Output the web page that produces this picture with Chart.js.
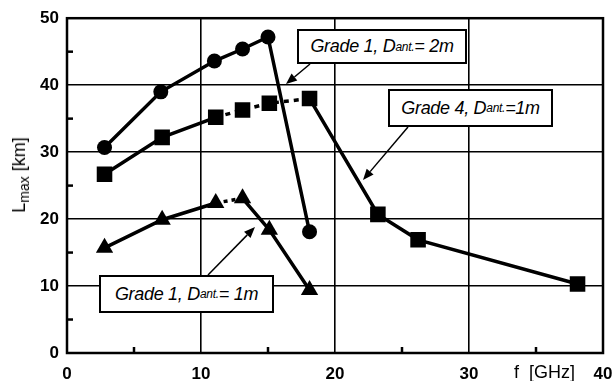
<!DOCTYPE html>
<html><head><meta charset="utf-8">
<script src="https://cdn.jsdelivr.net/npm/chart.js@4"></script>
<style>
html,body{margin:0;padding:0;background:#fff;}
#wrap{position:relative;width:615px;height:381px;overflow:hidden;}
canvas{position:absolute;left:0;top:0;}
.box{position:absolute;background:#fff;border:2px solid #000;font:italic 18px "Liberation Sans",Arial,sans-serif;color:#000;white-space:nowrap;box-sizing:border-box;display:flex;align-items:center;justify-content:center;letter-spacing:-0.3px;}
.box sub{font-size:12px;vertical-align:-4px;line-height:1;}
.lbl{position:absolute;font:18px "Liberation Sans",Arial,sans-serif;color:#000;white-space:nowrap;}
.lbl sub{font-size:14px;vertical-align:-4px;line-height:1;}
</style></head>
<body><div id="wrap"><canvas id="c" width="615" height="381"></canvas>
<div class="box" style="left:297px;top:29px;width:170px;height:35px;">Grade 1, D<sub>ant.</sub>= 2m</div>
<div class="box" style="left:388px;top:89px;width:165px;height:38px;">Grade 4, D<sub>ant.</sub>=1m</div>
<div class="box" style="left:99px;top:275px;width:175px;height:38px;">Grade 1, D<sub>ant.</sub>= 1m</div>
<div class="lbl" style="left:20px;top:175px;transform:translate(-50%,-50%) rotate(-90deg);">L<sub>max</sub> [km]</div>
<div class="lbl" style="left:514px;top:362px;">f&nbsp; [GHz]</div>
</div>
<script>
// Data
const freqGrade1_2m = [2.8, 7.0, 11.0, 13.1, 15.0, 18.1];
const lmaxGrade1_2m = [30.7, 39.0, 43.6, 45.4, 47.2, 18.1];
const freqGrade4_1m = [2.8, 7.1, 11.1, 13.1, 15.1, 18.1, 23.2, 26.2, 38.1];
const lmaxGrade4_1m = [26.7, 32.2, 35.2, 36.3, 37.3, 38.0, 20.7, 16.9, 10.3];
const freqGrade1_1m = [2.8, 7.1, 11.1, 13.1, 15.1, 18.1];
const lmaxGrade1_1m = [15.7, 19.9, 22.4, 23.1, 18.4, 9.4];
const xTicks = [0, 10, 20, 30, 40];
const yTicks = [0, 10, 20, 30, 40, 50];
const xMinor = [5, 15, 25, 35];
const yMinor = [5, 15, 25, 35, 45];

const pts = (xs, ys) => xs.map((x, i) => ({x: x, y: ys[i]}));

// arrows (pixel layout of the annotation callouts)
const arrows = [
  [310, 64, 286, 84],
  [408, 127, 363, 180],
  [208, 275, 255, 227]
];

const framePlugin = {
  id: 'frame',
  afterDraw(chart) {
    const ctx = chart.ctx, a = chart.chartArea;
    const xs = chart.scales.x, ys = chart.scales.y;
    ctx.save();
    ctx.strokeStyle = '#000';
    ctx.lineWidth = 2.5;
    ctx.strokeRect(a.left, a.top, a.right - a.left, a.bottom - a.top);
    xMinor.forEach(v => {
      const p = xs.getPixelForValue(v);
      ctx.beginPath(); ctx.moveTo(p, a.bottom); ctx.lineTo(p, a.bottom - 6); ctx.stroke();
    });
    yMinor.forEach(v => {
      const p = ys.getPixelForValue(v);
      ctx.beginPath(); ctx.moveTo(a.left, p); ctx.lineTo(a.left + 6, p); ctx.stroke();
    });
    ctx.lineWidth = 1.5;
    ctx.fillStyle = '#000';
    arrows.forEach(([x1, y1, x2, y2]) => {
      const ang = Math.atan2(y2 - y1, x2 - x1);
      const L = 11, W = 4.5;
      const bx = x2 - L * Math.cos(ang), by = y2 - L * Math.sin(ang);
      ctx.beginPath(); ctx.moveTo(x1, y1); ctx.lineTo(bx, by); ctx.stroke();
      ctx.beginPath();
      ctx.moveTo(x2, y2);
      ctx.lineTo(bx + W * Math.sin(ang), by - W * Math.cos(ang));
      ctx.lineTo(bx - W * Math.sin(ang), by + W * Math.cos(ang));
      ctx.closePath(); ctx.fill();
    });
    ctx.restore();
  }
};

const common = {
  borderColor: '#000', backgroundColor: '#000',
  pointBackgroundColor: '#000', pointBorderColor: '#000', pointBorderWidth: 0,
  borderWidth: 3.5, fill: false, tension: 0
};

new Chart(document.getElementById('c'), {
  type: 'line',
  data: {
    datasets: [
      Object.assign({}, common, {
        label: 'Grade 1, Dant.= 2m', data: pts(freqGrade1_2m, lmaxGrade1_2m),
        pointStyle: 'circle', pointRadius: 7.5
      }),
      Object.assign({}, common, {
        label: 'Grade 4, Dant.=1m', data: pts(freqGrade4_1m, lmaxGrade4_1m),
        pointStyle: 'rect', pointRadius: 11,
        segment: { borderDash: c => (c.p0DataIndex >= 2 && c.p0DataIndex <= 4) ? [5, 5] : undefined }
      }),
      Object.assign({}, common, {
        label: 'Grade 1, Dant.= 1m', data: pts(freqGrade1_1m, lmaxGrade1_1m),
        pointStyle: 'triangle', pointRadius: 10,
        segment: { borderDash: c => (c.p0DataIndex === 2) ? [4, 4] : undefined }
      })
    ]
  },
  options: {
    responsive: false, animation: false,
    layout: { padding: { left: 0, top: 18, right: 0, bottom: 0 } },
    plugins: { legend: { display: false }, tooltip: { enabled: false } },
    scales: {
      x: {
        type: 'linear', min: 0, max: 40,
        afterFit: s => { s.height = 28; s.paddingRight = 12; s.paddingLeft = 0; },
        afterBuildTicks: s => { s.ticks = xTicks.map(v => ({value: v})); },
        ticks: { color: '#000', padding: 11, font: { family: 'Liberation Sans', size: 17, weight: 'bold' }, maxRotation: 0 },
        grid: { color: '#000', lineWidth: 1.6, drawTicks: false },
        border: { display: false }
      },
      y: {
        type: 'linear', min: 0, max: 50,
        afterFit: s => { s.width = 67; },
        afterBuildTicks: s => { s.ticks = yTicks.map(v => ({value: v})); },
        ticks: { color: '#000', padding: 8, font: { family: 'Liberation Sans', size: 17, weight: 'bold' } },
        grid: { color: '#000', lineWidth: 1.6, drawTicks: false },
        border: { display: false }
      }
    }
  },
  plugins: [framePlugin]
});
</script>
</body></html>
